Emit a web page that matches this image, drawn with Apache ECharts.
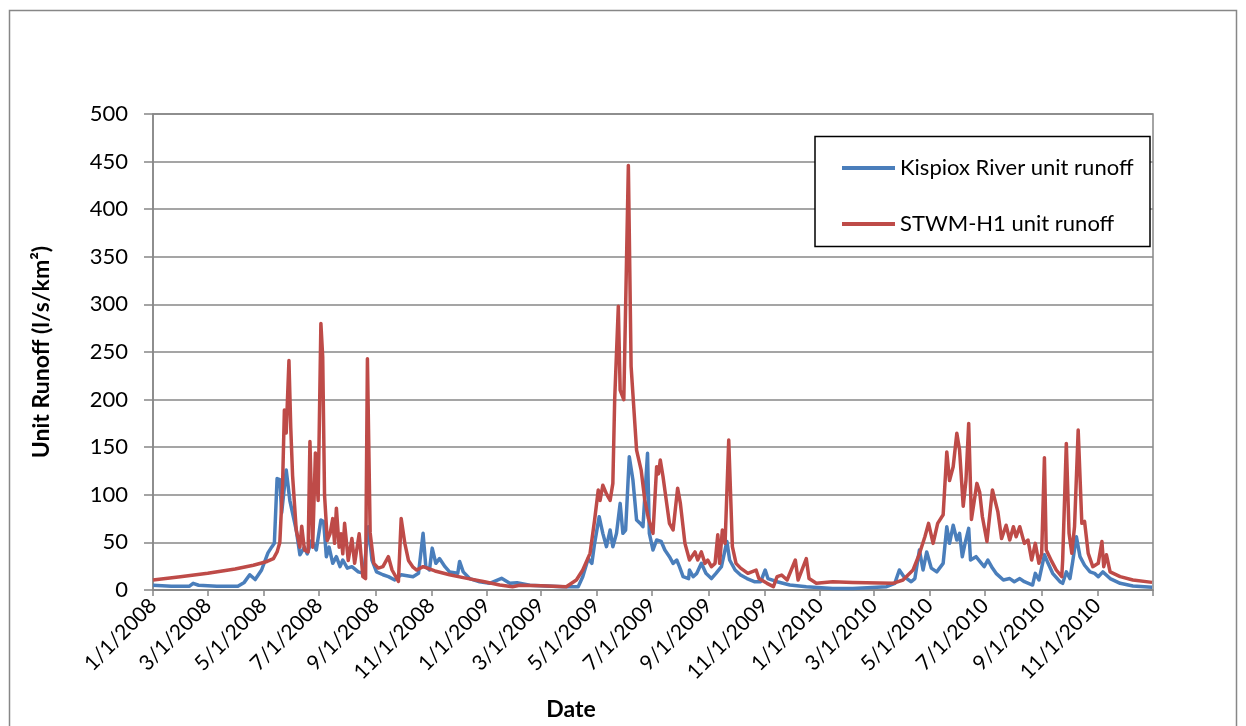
<!DOCTYPE html>
<html><head><meta charset="utf-8">
<script src="https://cdn.jsdelivr.net/npm/echarts@6/dist/echarts.min.js"></script>
<style>html,body{margin:0;padding:0;background:#fff}#c{width:1246px;height:726px}</style>
</head><body><div id="c"></div><script>
const seriesNames = ['Kispiox River unit runoff', 'STWM-H1 unit runoff'];

const kispiox2008 = [['2008-01-01',5],['2008-01-21',4],['2008-02-10',4],['2008-02-14',7],['2008-02-20',5],['2008-03-11',4],['2008-04-03',4],['2008-04-10',8],['2008-04-16',16],['2008-04-22',11],['2008-04-29',21],['2008-05-06',39],['2008-05-10',45],['2008-05-13',49],['2008-05-16',117],['2008-05-19',116],['2008-05-21',81],['2008-05-26',126],['2008-05-30',94],['2008-06-06',63],['2008-06-10',37],['2008-06-15',45],['2008-06-18',38],['2008-06-23',52],['2008-06-28',42],['2008-07-03',73.5],['2008-07-06',72],['2008-07-09',35],['2008-07-12',45],['2008-07-16',28],['2008-07-20',35],['2008-07-24',24.5],['2008-07-27',31.5],['2008-08-01',23],['2008-08-06',24.5],['2008-08-13',19],['2008-08-19',17.5],['2008-08-24',66.5],['2008-08-28',31.5],['2008-09-02',19],['2008-09-09',16],['2008-09-15',14],['2008-09-22',10.5],['2008-09-29',16],['2008-10-12',14],['2008-10-18',17.5],['2008-10-23',59.5],['2008-10-26',24.5],['2008-10-30',21],['2008-11-02',44],['2008-11-06',28],['2008-11-10',33],['2008-11-16',24.5],['2008-11-21',19],['2008-11-30',17.5],['2008-12-02',30],['2008-12-06',19],['2008-12-13',12],['2008-12-24',8.7]];
const kispiox2009 = [['2009-01-04',7],['2009-01-17',12.3],['2009-01-26',7],['2009-02-03',7.7],['2009-02-17',5],['2009-03-25',3.5],['2009-04-11',3.5],['2009-04-16',14],['2009-04-22',33],['2009-04-26',28],['2009-04-29',49],['2009-05-04',77],['2009-05-08',59.5],['2009-05-12',45.5],['2009-05-16',63],['2009-05-19',45.5],['2009-05-23',59.5],['2009-05-27',91],['2009-05-30',59.5],['2009-06-02',63],['2009-06-06',140],['2009-06-10',115.5],['2009-06-14',73.5],['2009-06-18',70],['2009-06-21',66.5],['2009-06-26',143.6],['2009-06-28',59.5],['2009-07-02',42],['2009-07-06',52.5],['2009-07-11',51],['2009-07-15',42],['2009-07-20',35],['2009-07-24',28],['2009-07-28',31.5],['2009-07-31',24.5],['2009-08-04',14],['2009-08-10',12],['2009-08-11',21],['2009-08-15',14],['2009-08-19',17.5],['2009-08-24',28],['2009-08-29',17.5],['2009-09-04',12],['2009-09-09',17.5],['2009-09-15',24.5],['2009-09-21',51],['2009-09-24',31.5],['2009-09-30',21],['2009-10-06',15.7],['2009-10-13',12],['2009-10-21',8.7],['2009-10-28',8.7],['2009-11-02',21],['2009-11-05',12],['2009-11-15',8.7],['2009-11-29',5.2],['2009-12-17',3.5]];
const kispiox2010 = [['2010-01-15',1.7],['2010-02-06',1.7],['2010-03-15',3.5],['2010-03-24',7],['2010-03-29',21],['2010-04-03',14],['2010-04-11',8.7],['2010-04-15',12],['2010-04-20',42],['2010-04-24',21],['2010-04-28',40],['2010-05-03',23],['2010-05-09',19],['2010-05-16',28],['2010-05-20',66.5],['2010-05-23',49],['2010-05-27',68],['2010-05-31',52.5],['2010-06-03',59.5],['2010-06-06',35],['2010-06-09',49],['2010-06-13',64.7],['2010-06-15',31.5],['2010-06-21',35],['2010-06-27',28],['2010-06-30',24.5],['2010-07-04',31.5],['2010-07-09',23],['2010-07-13',17.5],['2010-07-21',10.5],['2010-07-28',12],['2010-08-02',8.7],['2010-08-08',12],['2010-08-13',8.7],['2010-08-22',5.2],['2010-08-25',17.5],['2010-08-29',10.5],['2010-09-04',37],['2010-09-08',28],['2010-09-13',17.5],['2010-09-21',8.7],['2010-09-24',7],['2010-09-28',19],['2010-10-02',12],['2010-10-05',30],['2010-10-09',56],['2010-10-13',35],['2010-10-18',26],['2010-10-24',19],['2010-10-29',17.5],['2010-11-02',14],['2010-11-07',19],['2010-11-15',12],['2010-11-26',7],['2010-12-10',4.2],['2010-12-31',3]];

const stwm2008 = [['2008-01-01',10.5],['2008-01-31',14],['2008-03-01',17.5],['2008-03-31',22],['2008-04-20',26],['2008-05-05',30],['2008-05-12',33],['2008-05-16',40],['2008-05-19',50],['2008-05-22',110],['2008-05-24',189],['2008-05-26',165],['2008-05-29',241],['2008-05-31',170],['2008-06-02',120],['2008-06-06',63],['2008-06-10',45],['2008-06-12',67],['2008-06-15',42],['2008-06-19',40],['2008-06-21',156],['2008-06-24',45],['2008-06-27',144],['2008-06-30',94],['2008-07-03',280],['2008-07-05',245],['2008-07-07',100],['2008-07-10',52],['2008-07-13',59],['2008-07-16',75],['2008-07-18',49],['2008-07-20',86],['2008-07-23',45],['2008-07-25',59],['2008-07-27',38],['2008-07-29',70],['2008-08-02',31],['2008-08-06',54],['2008-08-09',28],['2008-08-14',59],['2008-08-18',14],['2008-08-21',12],['2008-08-23',243],['2008-08-26',60],['2008-08-30',28],['2008-09-04',23],['2008-09-09',24.5],['2008-09-15',35],['2008-09-19',21],['2008-09-26',9],['2008-09-29',75],['2008-10-03',49],['2008-10-07',31],['2008-10-12',24],['2008-10-16',21],['2008-10-23',24.5],['2008-11-05',20],['2008-11-21',16],['2008-12-06',13],['2008-12-28',9]];
const stwm2009 = [['2009-01-15',5.2],['2009-01-29',3.5],['2009-02-06',5],['2009-03-01',4.5],['2009-03-29',3.5],['2009-04-09',10.5],['2009-04-16',21],['2009-04-24',38.5],['2009-04-29',73.5],['2009-05-03',105],['2009-05-05',94],['2009-05-08',110],['2009-05-12',101],['2009-05-16',94],['2009-05-19',112],['2009-05-21',200],['2009-05-25',298],['2009-05-27',210],['2009-05-31',200],['2009-06-05',446],['2009-06-08',235],['2009-06-14',147],['2009-06-19',126],['2009-06-23',94.5],['2009-06-27',75],['2009-07-02',59.5],['2009-07-06',129.5],['2009-07-08',122],['2009-07-10',136.5],['2009-07-13',119],['2009-07-17',91],['2009-07-20',70],['2009-07-24',63],['2009-07-29',107],['2009-08-01',91],['2009-08-06',49],['2009-08-11',31.5],['2009-08-17',40],['2009-08-20',31.5],['2009-08-24',40],['2009-08-28',28],['2009-08-31',31.5],['2009-09-04',24.5],['2009-09-08',28],['2009-09-11',58],['2009-09-13',28],['2009-09-16',63],['2009-09-19',49],['2009-09-23',157.6],['2009-09-27',45.5],['2009-10-01',28],['2009-10-06',23],['2009-10-14',17.5],['2009-10-23',21],['2009-10-26',12],['2009-11-04',7],['2009-11-11',3.5],['2009-11-15',14],['2009-11-20',15.7],['2009-11-26',10.5],['2009-12-05',31.5],['2009-12-08',10.5],['2009-12-17',33],['2009-12-20',12],['2009-12-28',7]];
const stwm2010 = [['2010-01-15',8.7],['2010-02-06',8],['2010-03-22',7],['2010-04-02',10.5],['2010-04-13',21],['2010-04-20',38],['2010-04-26',56],['2010-04-30',70],['2010-05-05',49],['2010-05-10',70],['2010-05-16',79],['2010-05-20',145],['2010-05-23',115],['2010-05-27',129.5],['2010-05-31',164.6],['2010-06-03',147],['2010-06-07',88],['2010-06-10',115],['2010-06-13',175],['2010-06-16',74],['2010-06-22',112],['2010-06-25',103],['2010-06-28',77],['2010-07-03',51],['2010-07-09',105],['2010-07-15',82],['2010-07-19',54],['2010-07-24',68],['2010-07-28',52.5],['2010-08-01',66.5],['2010-08-04',56],['2010-08-08',66.5],['2010-08-13',49],['2010-08-17',52.5],['2010-08-21',31.5],['2010-08-25',49],['2010-08-29',28],['2010-09-01',38.5],['2010-09-04',139],['2010-09-06',42],['2010-09-12',30],['2010-09-17',21],['2010-09-23',14],['2010-09-24',31.5],['2010-09-28',154],['2010-10-01',59.5],['2010-10-04',38.5],['2010-10-07',66.5],['2010-10-11',168],['2010-10-15',70],['2010-10-18',72],['2010-10-22',38.5],['2010-10-27',24.5],['2010-11-02',28],['2010-11-06',51],['2010-11-08',24.5],['2010-11-11',37],['2010-11-15',19],['2010-11-26',14],['2010-12-10',10.5],['2010-12-31',8]];

const tickDates = ['2008-01-01','2008-03-01','2008-05-01','2008-07-01','2008-09-01','2008-11-01','2009-01-01','2009-03-01','2009-05-01','2009-07-01','2009-09-01','2009-11-01','2010-01-01','2010-03-01','2010-05-01','2010-07-01','2010-09-01','2010-11-01','2011-01-01'];
const labelDates = tickDates.slice(0, -1);

const axisStart = '2008-01-01';
const axisEnd = '2011-01-01';

function ts(s) { const p = s.split('-').map(Number); return Date.UTC(p[0], p[1] - 1, p[2]); }
function fmt(v) { const d = new Date(v); return (d.getUTCMonth() + 1) + '/' + d.getUTCDate() + '/' + d.getUTCFullYear(); }
function toPoints(rows) { return rows.map(r => [ts(r[0]), r[1]]); }

const FONT = 'Lato, Carlito, "Open Sans", sans-serif';
const GRAY = '#878787';
const BLUE = '#4A7EBB';
const RED = '#BE4B48';

const chart = echarts.init(document.getElementById('c'), null, { renderer: 'canvas' });
chart.setOption({
  animation: false,
  backgroundColor: '#fff',
  textStyle: { fontFamily: FONT },
  graphic: [
    { type: 'rect', shape: { x: 9.5, y: 10.5, width: 1227, height: 740 }, style: { fill: 'none', stroke: GRAY, lineWidth: 1.5 }, silent: true, z: -10 },
    { type: 'rect', shape: { x: 815, y: 136.5, width: 335, height: 110 }, style: { fill: '#fff', stroke: '#000', lineWidth: 1.5 }, silent: true, z: 50 }
  ],
  legend: {
    orient: 'vertical', left: 837, top: 152, icon: 'rect', itemWidth: 53, itemHeight: 4, itemGap: 34,
    data: seriesNames, z: 60,
    textStyle: { fontFamily: FONT, fontSize: 22, color: '#000', lineHeight: 22 }
  },
  grid: { left: 153, right: 93, top: 114, bottom: 136, show: true, borderColor: GRAY, borderWidth: 1.5, containLabel: false },
  xAxis: {
    type: 'value', min: ts(axisStart), max: ts(axisEnd),
    name: 'Date', nameLocation: 'middle', nameGap: 108,
    nameTextStyle: { fontFamily: FONT, fontSize: 23, fontWeight: 'bold', color: '#000', padding: [0, 164, 0, 0] },
    axisLine: { show: true, lineStyle: { color: GRAY, width: 1.5 } },
    axisTick: { show: true, length: 6, lineStyle: { color: GRAY, width: 1.5 }, customValues: tickDates.map(ts) },
    axisLabel: { rotate: 45, margin: 12, fontSize: 21, color: '#000', fontFamily: FONT, customValues: labelDates.map(ts), formatter: fmt },
    splitLine: { show: false }
  },
  yAxis: {
    type: 'value', min: 0, max: 500, interval: 50,
    name: 'Unit Runoff (l/s/km²)', nameLocation: 'middle', nameGap: 100,
    nameTextStyle: { fontFamily: FONT, fontSize: 23, fontWeight: 'bold', color: '#000' },
    axisLine: { show: true, lineStyle: { color: GRAY, width: 1.5 } },
    axisTick: { show: true, length: 9, lineStyle: { color: GRAY, width: 1.5 } },
    axisLabel: { margin: 25, fontSize: 22, color: '#000', fontFamily: FONT },
    splitLine: { show: true, lineStyle: { color: GRAY, width: 1.5 } }
  },
  series: [
    { name: seriesNames[0], type: 'line', symbol: 'none', data: toPoints(kispiox2008.concat(kispiox2009, kispiox2010)),
      lineStyle: { color: BLUE, width: 3.5, join: 'round' }, itemStyle: { color: BLUE }, z: 2 },
    { name: seriesNames[1], type: 'line', symbol: 'none', data: toPoints(stwm2008.concat(stwm2009, stwm2010)),
      lineStyle: { color: RED, width: 3.5, join: 'round' }, itemStyle: { color: RED }, z: 3 }
  ]
});
</script></body></html>
